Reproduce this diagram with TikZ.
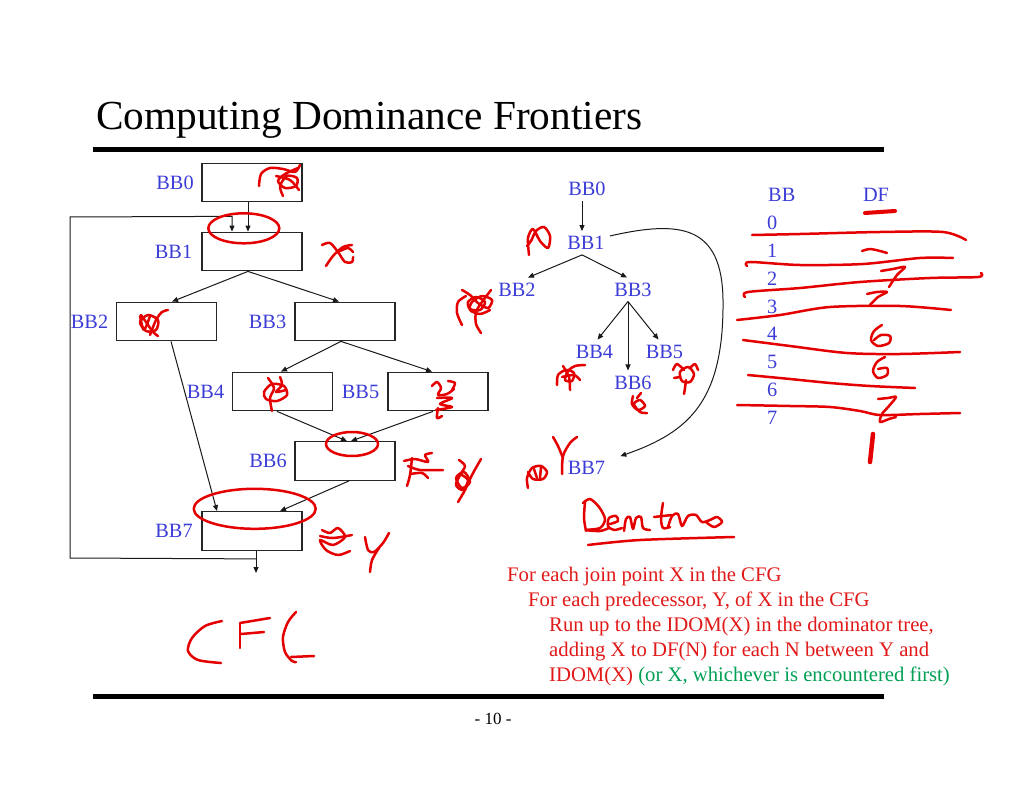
\documentclass[tikz,border=0pt]{standalone}
\usepackage{fontspec}
\setmainfont{Liberation Serif}
\usetikzlibrary{arrows.meta,positioning,calc}
\definecolor{lblblue}{RGB}{60,60,215}
\definecolor{inkred}{RGB}{228,0,0}
\definecolor{txtred}{RGB}{225,25,25}
\definecolor{txtgreen}{RGB}{0,160,85}
\begin{document}
\begin{tikzpicture}[x=1pt,y=-1pt,
  cfgbox/.style={draw=black!85, line width=1.3pt, minimum width=100pt, minimum height=38.5pt, inner sep=0pt},
  lbl/.style={text=lblblue, font=\fontsize{20.3}{24}\selectfont, inner sep=0pt},
  tnode/.style={text=lblblue, font=\fontsize{20.3}{24}\selectfont, inner sep=5pt},
  conn/.style={draw=black!90, line width=1pt, -{Triangle[length=6pt,width=5pt]}},
  hand/.style={inkred, line width=2.5pt, line cap=round, line join=round},
  algo/.style={text=txtred, font=\fontsize{20.7}{24}\selectfont, inner sep=0pt, anchor=base west},
  tab/.style={text=lblblue, font=\fontsize{20.3}{24}\selectfont, inner sep=0pt}]
\useasboundingbox (0,0) rectangle (1024,791);
\fill[white] (0,0) rectangle (1024,791);

% title and rules
\node[anchor=base west, inner sep=0pt, font=\fontsize{41.3}{48}\selectfont] (title) at (96,130) {Computing Dominance Frontiers};
\draw[line width=5pt] (93,150) -- (884,150);
\draw[line width=5pt] (93,696.5) -- (884,696.5);
\node[inner sep=0pt, font=\fontsize{17}{20}\selectfont] (pageno) at (493,719) {- 10 -};

% CFG boxes
\node[cfgbox] (b0) at (252,182.5) {};
\node[cfgbox] (b1) at (252,251.5) {};
\node[cfgbox] (b2) at (166.5,321.5) {};
\node[cfgbox] (b3) at (345,321.5) {};
\node[cfgbox] (b4) at (282.5,391.5) {};
\node[cfgbox] (b5) at (438,391.5) {};
\node[cfgbox] (b6) at (345,461) {};
\node[cfgbox] (b7) at (252,531) {};
\node[lbl, left=7.5pt of b0] (l0) {BB0};
\node[lbl, left=9pt of b1] (l1) {BB1};
\node[lbl, left=7.5pt of b2] (l2) {BB2};
\node[lbl, left=8pt of b3] (l3) {BB3};
\node[lbl, left=7.5pt of b4] (l4) {BB4};
\node[lbl, left=8pt of b5] (l5) {BB5};
\node[lbl, left=7.5pt of b6] (l6) {BB6};
\node[lbl, left=8.5pt of b7] (l7) {BB7};

% CFG edges
\coordinate (exitend) at (256,573);
\coordinate (lc1) at (70,558);
\coordinate (lc2) at (70,217);
\draw[conn] ($(b0.south)+(-4,0)$) -- ($(b1.north)+(-4,0)$);
\draw[conn] ($(b7.south)+(4,0)$) -- (exitend);
\draw[conn] ($(b7.south)+(4,8)$) -- (lc1) -- (lc2) -- ($(b1.north)+(-20,-15.25)$) -- ($(b1.north)+(-20,0)$);
\draw[conn] ($(b1.south)+(-4,0)$) -- ($(b2.north)+(5.5,0)$);
\draw[conn] ($(b1.south)+(-4,0)$) -- ($(b3.north)+(-6,0)$);
\draw[conn] ($(b2.south)+(4.5,0)$) -- ($(b7.north)+(-35,0)$);
\draw[conn] ($(b3.south)+(-4,0)$) -- ($(b4.north)+(-1.5,0)$);
\draw[conn] ($(b3.south)+(-4,0)$) -- ($(b5.north)+(-6,0)$);
\draw[conn] ($(b4.south)+(-5.5,0)$) -- ($(b6.north)+(2,0)$);
\draw[conn] ($(b5.south)+(-5,0)$) -- ($(b6.north)+(6,0)$);
\draw[conn] ($(b6.south)+(4,0)$) -- ($(b7.north)+(28,0)$);

% dominator tree
\node[tnode] (t0) at (587,189) {BB0};
\node[tnode] (t1) at (586,243) {BB1};
\node[tnode] (t2) at (517,289.5) {BB2};
\node[tnode] (t3) at (633,289.5) {BB3};
\node[tnode] (t4) at (594.5,351.5) {BB4};
\node[tnode] (t5) at (664.5,351.5) {BB5};
\node[tnode] (t6) at (633,382.5) {BB6};
\node[tnode] (t7) at (586.5,468) {BB7};
\draw[conn] ([xshift=-5pt]t0.south) -- ([xshift=-4pt]t1.north);
\draw[conn] ([xshift=-4pt]t1.south) -- ([xshift=11pt]t2.north);
\draw[conn] ([xshift=-4pt]t1.south) -- ([xshift=-6pt]t3.north);
\draw[conn] ([xshift=-5pt]t3.south) -- ([xshift=3pt]t4.north);
\draw[conn] ([xshift=-5pt]t3.south) -- ([xshift=-5pt]t6.north);
\draw[conn] ([xshift=-5pt]t3.south) -- ([xshift=-6pt]t5.north);
\draw[conn] ([yshift=7pt]t1.east) .. controls (680,220) and (722,225) .. (723,300) .. controls (724,400) and (690,432) .. ([xshift=10pt]t7.north east);

% DF table
\node[tab, anchor=west] (hbb) at (768,195) {BB};
\node[tab] (hdf) at (876,195) {DF};
\foreach \i in {0,...,7} {
  \node[tab, anchor=west] (r\i) at (767,{222.7+27.9*\i}) {\i};
}

% algorithm text
\node[algo] (a1) at (507,581.7) {For each join point X in the CFG};
\node[algo] (a2) at (528,606.7) {For each predecessor, Y, of X in the CFG};
\node[algo] (a3) at (549,631.7) {Run up to the IDOM(X) in the dominator tree,};
\node[algo] (a4) at (549,656.7) {adding X to DF(N) for each N between Y and};
\node[algo] (a5) at (549,681.7) {IDOM(X) \textcolor{txtgreen}{(or X, whichever is encountered first)}};

% ---------- handwriting ----------
% BB0 scribble
\draw[hand] plot[smooth] coordinates {(259,186) (261,174) (270,168) (283,169) (295,172) (300,165)};
\draw[hand] plot[smooth] coordinates {(298,168) (285,174) (278,181) (285,188) (296,186) (297,178) (287,176) (280,186) (283,196)};
\draw[hand] plot[smooth] coordinates {(276,176) (290,180) (299,190)};
% ellipse BB1
\draw[hand] (243.8,228.3) ellipse [x radius=35.5, y radius=15];
% x next to BB1
\draw[hand] plot[smooth] coordinates {(322,245) (330,243) (338,252) (345,262) (352,262) (353,257)};
\draw[hand] plot[smooth] coordinates {(352,245) (343,247) (333,256) (326,266)};
\draw[hand] plot[smooth] coordinates {(340,251) (348,248) (353,252)};
% BB2 scribble
\draw[hand] plot[smooth] coordinates {(141,315) (146,322) (153,332) (158,336)};
\draw[hand] plot[smooth cycle] coordinates {(140,322) (148,315) (158,320) (156,330) (146,331)};
\draw[hand] plot[smooth] coordinates {(150,335) (156,320) (162,312) (168,310)};
\draw[hand] plot[smooth] coordinates {(140,316) (144,330) (150,316)};
% BB4 scribble
\draw[hand] plot[smooth cycle] coordinates {(264,392) (272,384) (284,386) (287,395) (277,401) (266,399)};
\draw[hand] plot[smooth] coordinates {(268,378) (274,388) (270,398) (272,411)};
\draw[hand] plot[smooth] coordinates {(280,377) (282,385) (276,392) (286,390)};
% BB5 scribble
\draw[hand] plot[smooth] coordinates {(432,386) (437,382) (441,388) (438,395) (447,394) (454,389)};
\draw[hand] plot[smooth] coordinates {(437,398) (452,398) (440,404) (452,407) (436,410)};
\draw[hand] plot[smooth] coordinates {(438,408) (437,418) (442,416)};
\draw[hand] plot[smooth] coordinates {(448,381) (455,383) (452,390)};
% ellipse BB6
\draw[hand] (352,444) ellipse [x radius=26, y radius=12];
% right of BB6
\draw[hand] plot[smooth] coordinates {(404,461) (415,459) (428,462) (425,455) (432,453)};
\draw[hand] plot[smooth] coordinates {(408,466) (420,470) (443,470)};
\draw[hand] plot[smooth] coordinates {(412,458) (410,475) (407,486)};
\draw[hand] plot[smooth] coordinates {(410,474) (422,473) (428,478)};
\draw[hand] plot[smooth] coordinates {(459,460) (465,466) (460,475) (456,485) (463,490) (468,480) (460,474)};
\draw[hand] plot[smooth] coordinates {(481,459) (472,475) (465,490) (458,502)};
\draw[hand] plot[smooth cycle] coordinates {(456,478) (464,472) (470,482) (462,488)};
% ellipse BB7
\draw[hand] (254.7,508.8) ellipse [x radius=61, y radius=20];
% right of BB7
\draw[hand] plot[smooth] coordinates {(322,530) (330,533) (338,528) (345,537) (333,545) (320,540) (326,550) (338,555) (350,551)};
\draw[hand] plot[smooth] coordinates {(320,536) (333,538) (352,535)};
\draw[hand] plot[smooth] coordinates {(365,537) (368,550) (374,552) (383,543) (389,533)};
\draw[hand] plot[smooth] coordinates {(379,548) (372,560) (370,572)};
% CFG handwriting
\draw[hand] plot[smooth] coordinates {(222,621) (205,626) (192,638) (188,651) (198,660) (221,663)};
\draw[hand] (240,623) -- (270,618);
\draw[hand] (241,634) -- (264,632);
\draw[hand] (240,624) -- (240,648);
\draw[hand] plot[smooth] coordinates {(296,612) (288,622) (283,637) (285,652) (292,661) (296,662)};
\draw[hand] (291,657) -- (314,656);
% dominator tree scribbles
\draw[hand] plot[smooth] coordinates {(529,255) (528,238) (533,229) (540,241) (548,248) (550,236) (544,227) (536,231) (531,241) (527,246)};
\draw[hand] plot[smooth] coordinates {(462,290) (470,295) (478,303) (488,308) (492,300) (482,296) (472,302) (470,310) (480,314) (490,310)};
\draw[hand] plot[smooth] coordinates {(466,296) (458,302) (457,313) (462,325)};
\draw[hand] plot[smooth] coordinates {(491,290) (482,302) (476,312) (476,324) (481,333)};
\draw[hand] plot[smooth cycle] coordinates {(468,302) (476,297) (485,302) (480,310) (470,309)};
\draw[hand] plot[smooth] coordinates {(557,385) (558,375) (566,370) (574,373) (572,381) (565,380) (568,371) (575,366) (585,365)};
\draw[hand] plot[smooth] coordinates {(563,366) (569,377) (570,390)};
\draw[hand] plot[smooth] coordinates {(562,377) (574,375) (580,380)};
\draw[hand] plot[smooth cycle] coordinates {(680,372) (688,367) (694,374) (690,382) (682,381)};
\draw[hand] plot[smooth] coordinates {(673,370) (677,364) (684,370)};
\draw[hand] plot[smooth] coordinates {(690,368) (695,364) (698,370)};
\draw[hand] plot[smooth] coordinates {(686,380) (685,388) (684,394)};
\draw[hand] plot[smooth] coordinates {(674,378) (680,377)};
\draw[hand] plot[smooth] coordinates {(633,396) (632,404) (638,410) (645,406) (640,400) (634,404) (640,412) (647,413)};
\draw[hand] plot[smooth] coordinates {(637,398) (641,393)};
\draw[hand] plot[smooth] coordinates {(528,488) (527,478) (532,468) (541,466) (547,472) (543,479) (533,479) (528,472)};
\draw[hand] (534,469) -- (537,478);
\draw[hand] (541,467) -- (540,478);
\draw[hand] plot[smooth] coordinates {(553,437) (558,446) (563,458)};
\draw[hand] plot[smooth] coordinates {(577,437) (570,443) (563,456) (562,474)};
% Domtree handwriting
\draw[hand] plot[smooth] coordinates {(585,502) (584,518) (586,531)};
\draw[hand] plot[smooth] coordinates {(583,503) (590,499) (599,507) (605,519) (600,528) (586,530) (600,531) (609,528)};
\draw[hand] plot[smooth] coordinates {(610,524) (618,521) (616,516) (609,518) (608,526) (614,530) (622,528)};
\draw[hand] plot[smooth] coordinates {(624,531) (626,519) (630,517) (633,529) (636,518) (641,517) (643,528) (650,530)};
\draw[hand] plot[smooth] coordinates {(663,503) (661,518) (663,528) (670,527)};
\draw[hand] (654,517) -- (672,515);
\draw[hand] plot[smooth] coordinates {(668,527) (672,516) (678,514) (682,526) (688,516) (696,515) (702,522) (710,520) (717,517) (722,522) (714,527) (706,522)};
\draw[hand] plot[smooth] coordinates {(588,545) (640,540) (734,537)};
% DF table handwriting
\draw[hand, line width=4pt] (865,213) -- (895,211);
\draw[hand] plot[smooth] coordinates {(752,235) (800,234) (880,232) (943,232) (966,240)};
\draw[hand] plot[smooth] coordinates {(862,251) (870,249) (880,251) (887,253)};
\draw[hand] plot[smooth] coordinates {(747,266) (750,262) (800,265) (863,264) (920,258) (953,258)};
\draw[hand] plot[smooth] coordinates {(881,271) (893,269) (905,267) (897,275) (889,287)};
\draw[hand] plot[smooth] coordinates {(745,297) (748,292) (800,288) (860,282) (930,278) (978,277) (981,273)};
\draw[hand] plot[smooth] coordinates {(867,294) (877,292) (887,292) (878,297) (870,305)};
\draw[hand] plot[smooth] coordinates {(737,320) (780,315) (830,307) (900,306) (951,310)};
\draw[hand] plot[smooth] coordinates {(882,325) (874,331) (871,340) (878,346) (889,343) (890,336) (881,335) (874,340)};
\draw[hand] plot[smooth] coordinates {(743,340) (790,346) (847,353) (900,354) (960,352)};
\draw[hand] plot[smooth] coordinates {(885,357) (877,362) (873,371) (878,378) (887,375) (887,368) (878,369)};
\draw[hand] plot[smooth] coordinates {(748,375) (790,379) (830,383) (870,386) (915,388)};
\draw[hand] plot[smooth] coordinates {(737,405) (790,406) (830,407) (860,411) (880,415) (920,414) (960,413)};
\draw[hand] plot[smooth] coordinates {(878,399) (888,398) (896,397) (889,406) (882,414) (880,422) (889,419) (896,417)};
\draw[hand, line width=4.5pt] (873,434) -- (870,462);
\end{tikzpicture}
\end{document}
